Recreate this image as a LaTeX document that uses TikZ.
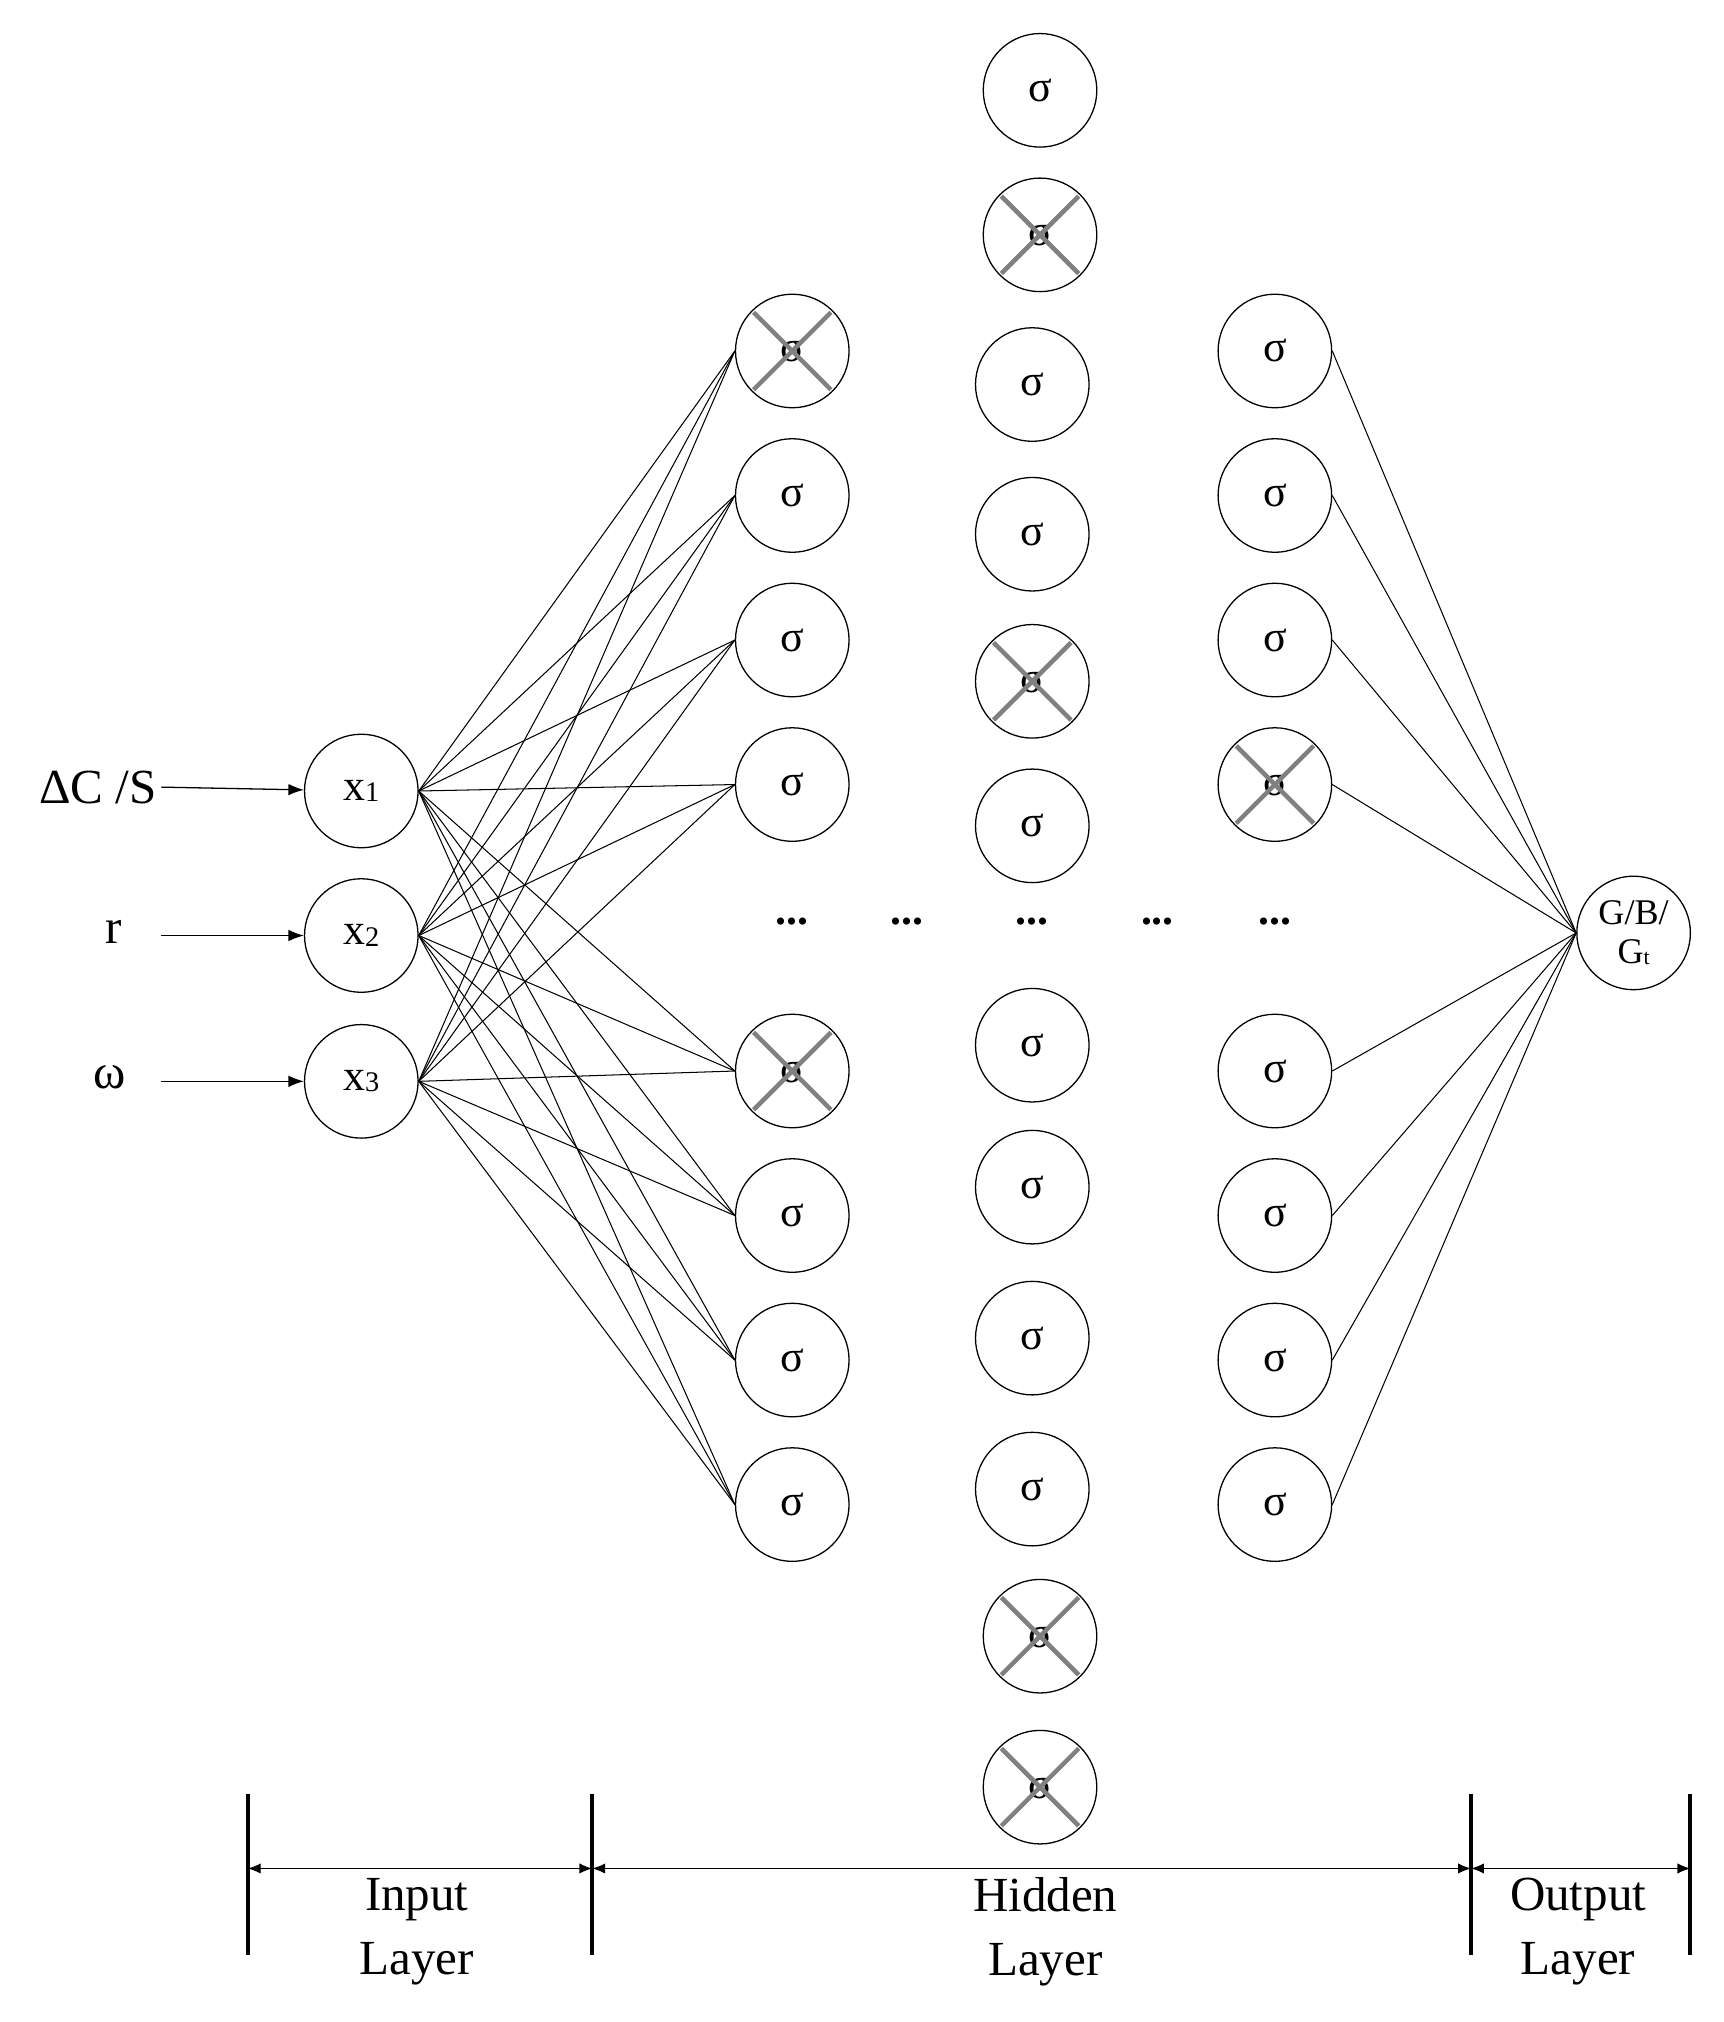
\documentclass[tikz,border=0pt]{standalone}
\usepackage{fontspec}
\setmainfont{Liberation Serif}
\usetikzlibrary{arrows.meta}
\begin{document}
\begin{tikzpicture}[x=1pt,y=-1pt,
  neu/.style={circle,draw,line width=1pt,minimum size=88pt,inner sep=0pt,font=\fontsize{34}{36}\selectfont},
  lnk/.style={line width=0.8pt},
  bar/.style={line width=3pt},
  lab/.style={font=\fontsize{38}{50}\selectfont,align=center},
  dots/.style={font=\fontsize{34}{36}\selectfont\bfseries}]
\useasboundingbox (0,0) rectangle (1336,1567);
\newcommand{\crossit}[1]{\draw[gray,line width=3.5pt] ([shift={(-30,-30)}]#1.center) -- ([shift={(30,30)}]#1.center) ([shift={(-30,30)}]#1.center) -- ([shift={(30,-30)}]#1.center);}
% inputs
\foreach \i/\y in {1/613,2/725,3/838}{
  \node[neu] (x\i) at (280,\y) {x\raisebox{-1pt}{\fontsize{22}{24}\selectfont\i}};
}
\node[lab,anchor=east] (l1) at (125,610) {ΔC /S};
\node[lab] (l2) at (88,722) {r};
\node[lab] (l3) at (85,835) {ω};
\draw[-{Latex[length=12pt,width=9pt]},line width=1pt] (l1.east) -- (x1);
\coordinate (c2) at (125,725); \coordinate (c3) at (125,838);
\draw[-{Latex[length=12pt,width=9pt]},line width=1pt] (c2) -- (x2);
\draw[-{Latex[length=12pt,width=9pt]},line width=1pt] (c3) -- (x3);
% hidden layers 1 and 3
\foreach \j/\y in {1/272,2/384,3/496,4/608,5/830,6/942,7/1054,8/1166}{
  \node[neu] (a\j) at (614,\y) {σ};
  \node[neu] (c\j) at (988,\y) {σ};
}
\crossit{a1}\crossit{a5}\crossit{c4}
% middle layer
\foreach \j/\x/\y in {1/806/70,2/806/182,3/800/298,4/800/414,5/800/528,6/800/640,7/800/810,8/800/920,9/800/1037,10/800/1154,11/806/1268,12/806/1385}{
  \node[neu] (b\j) at (\x,\y) {σ};
}
\crossit{b2}\crossit{b5}\crossit{b11}\crossit{b12}
% output
\node[neu,font=\fontsize{28}{30}\selectfont,align=center] (o) at (1266,723) {G/B/\\[0pt]G\raisebox{-1pt}{\fontsize{17}{18}\selectfont t}};
% links
\foreach \i in {1,2,3}{\foreach \j in {1,...,8}{\draw[lnk] (x\i.east) -- (a\j.west);}}
\foreach \j in {1,...,8}{\draw[lnk] (c\j.east) -- (o.west);}
% dots
\foreach \x [count=\k] in {614,703,800,897,988}{\node[dots] (d\k) at (\x,714) {...};}
% bottom
\foreach \x [count=\k] in {192,459,1140,1310}{
  \coordinate (t\k) at (\x,1390); \coordinate (u\k) at (\x,1515);
  \draw[bar] (t\k) -- (u\k);
  \coordinate (m\k) at (\x,1448);
}
\draw[{Latex[length=10pt,width=8pt]}-{Latex[length=10pt,width=8pt]},line width=1pt] (m1) -- (m2);
\draw[{Latex[length=10pt,width=8pt]}-{Latex[length=10pt,width=8pt]},line width=1pt] (m2) -- (m3);
\draw[{Latex[length=10pt,width=8pt]}-{Latex[length=10pt,width=8pt]},line width=1pt] (m3) -- (m4);
\node[lab] (L1) at (323,1497) {Input\\Layer};
\node[lab] (L2) at (810,1497) {Hidden\\Layer};
\node[lab] (L3) at (1223,1497) {Output\\Layer};
\end{tikzpicture}
\end{document}
